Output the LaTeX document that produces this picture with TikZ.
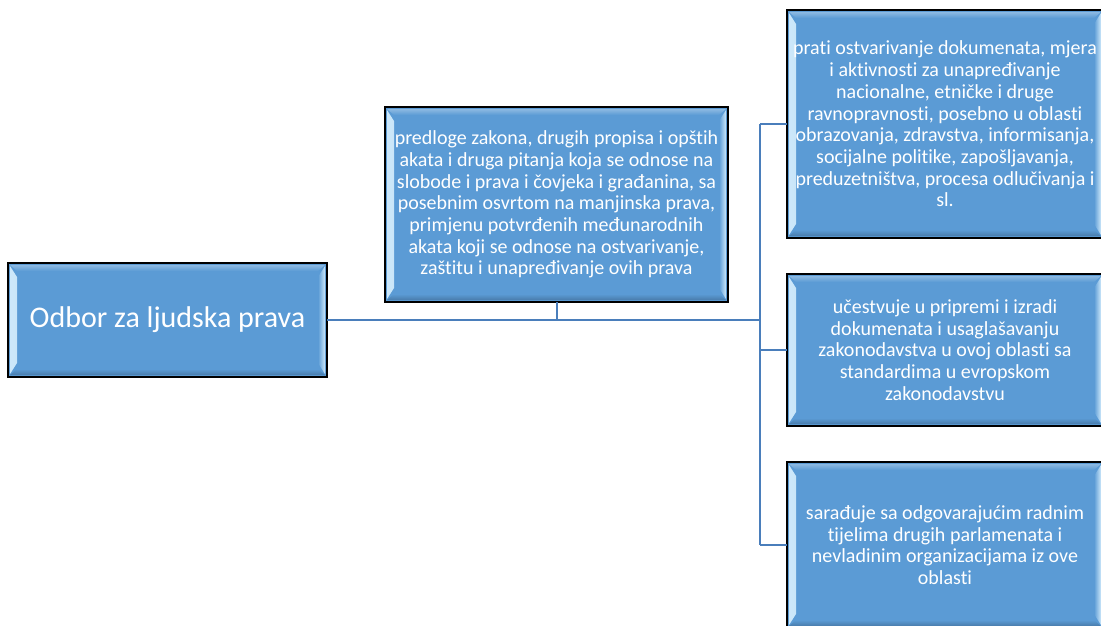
\documentclass[tikz,border=0pt]{standalone}
\usepackage{fontspec}
\setmainfont{Carlito}
\newfontfamily\boxfont[Ligatures=CommonOff]{Carlito}
\usetikzlibrary{calc}
\definecolor{boxblue}{HTML}{5B9BD5}
\definecolor{bevel}{HTML}{CDE8FA}
\definecolor{linecol}{HTML}{4A7EBB}
\tikzset{
  bluebox/.style={draw=black, line width=1.5pt, fill=boxblue, text=white,
    align=center, inner sep=0pt, outer sep=0pt,
    path picture={
      \fill[left color=bevel, right color=boxblue]
        ($(path picture bounding box.north west)+(2pt,-3pt)$) --
        ($(path picture bounding box.north west)+(9pt,-14pt)$) --
        ($(path picture bounding box.south west)+(9pt,14pt)$) --
        ($(path picture bounding box.south west)+(2pt,3pt)$) -- cycle;
      \fill[left color=boxblue, right color=bevel]
        ($(path picture bounding box.north east)+(-2pt,-3pt)$) --
        ($(path picture bounding box.north east)+(-9pt,-14pt)$) --
        ($(path picture bounding box.south east)+(-9pt,14pt)$) --
        ($(path picture bounding box.south east)+(-2pt,3pt)$) -- cycle;
      \fill[top color=boxblue!70!white, bottom color=boxblue]
        ($(path picture bounding box.north west)+(2pt,-2pt)$) --
        ($(path picture bounding box.north east)+(-2pt,-2pt)$) --
        ($(path picture bounding box.north east)+(-9pt,-8pt)$) --
        ($(path picture bounding box.north west)+(9pt,-8pt)$) -- cycle;
      \fill[top color=boxblue, bottom color=boxblue!80!black]
        ($(path picture bounding box.south west)+(2pt,2pt)$) --
        ($(path picture bounding box.south east)+(-2pt,2pt)$) --
        ($(path picture bounding box.south east)+(-9pt,8pt)$) --
        ($(path picture bounding box.south west)+(9pt,8pt)$) -- cycle;
    }},
  smalltext/.style={font=\boxfont\fontsize{20}{21.7}\selectfont},
  conn/.style={draw=linecol, line width=2pt}
}
\begin{document}
\begin{tikzpicture}[x=1pt, y=-1pt]
\useasboundingbox (0,0) rectangle (1101,625);
\node[bluebox, minimum width=319pt, minimum height=114pt,
  font=\boxfont\fontsize{30}{36}\selectfont] (root) at (167.5,320) {Odbor za ljudska prava};
\node[bluebox, smalltext, minimum width=343pt, minimum height=195pt] (mid) at (556.5,204.5)
  {predloge zakona, drugih propisa i opštih\\akata i druga pitanja koja se odnose na\\slobode i prava i čovjeka i građanina, sa\\posebnim osvrtom na manjinska prava,\\primjenu potvrđenih međunarodnih\\akata koji se odnose na ostvarivanje,\\zaštitu i unapređivanje ovih prava};
\node[bluebox, smalltext, minimum width=316pt, minimum height=228pt] (tr) at (945,124)
  {prati ostvarivanje dokumenata, mjera\\i aktivnosti za unapređivanje\\nacionalne, etničke i druge\\ravnopravnosti, posebno u oblasti\\obrazovanja, zdravstva, informisanja,\\socijalne politike, zapošljavanja,\\preduzetništva, procesa odlučivanja i\\sl.};
\node[bluebox, smalltext, minimum width=316pt, minimum height=152pt] (mr) at (945,350)
  {učestvuje u pripremi i izradi\\dokumenata i usaglašavanju\\zakonodavstva u ovoj oblasti sa\\standardima u evropskom\\zakonodavstvu};
\node[bluebox, smalltext, minimum width=316pt, minimum height=166pt] (br) at (945,545)
  {sarađuje sa odgovarajućim radnim\\tijelima drugih parlamenata i\\nevladinim organizacijama iz ove\\oblasti};
\coordinate (jr) at (760,320);
\draw[conn] (root.east) -- (jr);
\draw[conn] (mid.south) -- (mid.south |- root.east);
\draw[conn] (jr |- tr.west) -- (jr |- br.west);
\draw[conn] (jr |- tr.west) -- (tr.west);
\draw[conn] (jr |- mr.west) -- (mr.west);
\draw[conn] (jr |- br.west) -- (br.west);
\end{tikzpicture}
\end{document}
